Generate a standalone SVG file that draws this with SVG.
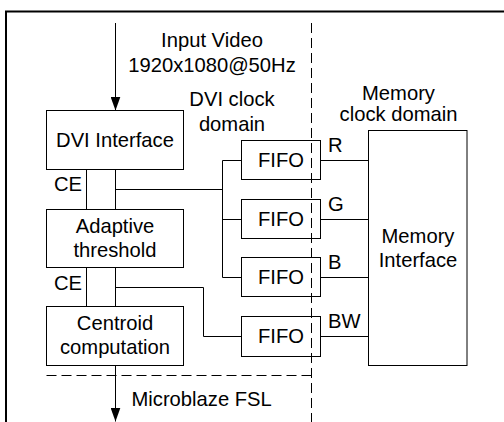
<svg xmlns="http://www.w3.org/2000/svg" width="504" height="422" viewBox="0 0 504 422">
<defs>
<style>
.box{fill:none;stroke:#000;stroke-width:1}
.ln{fill:none;stroke:#000;stroke-width:1}
.dash{fill:none;stroke:#000;stroke-width:1;stroke-dasharray:10,5}
text{font-family:"Liberation Sans",Arial,sans-serif;font-size:20.2px;fill:#000}
.c{text-anchor:middle}
</style>
<marker id="ah" markerUnits="userSpaceOnUse" markerWidth="14" markerHeight="10" refX="14" refY="5" orient="auto">
<path d="M0,0 L14,5 L0,10 z" fill="#000"/>
</marker>
</defs>
<rect width="504" height="422" fill="#fff"/>
<path d="M6,422 V11.5 H504" fill="none" stroke="#000" stroke-width="2"/>
<g id="domains">
<path class="dash" d="M311.5,23 V422"/>
<path class="dash" d="M46.5,375.5 H311"/>
</g>
<g id="connectors">
<path class="ln" d="M115.5,23 V110.5" marker-end="url(#ah)"/>
<path class="ln" d="M115.5,365.5 V421.5" marker-end="url(#ah)"/>
<path class="ln" d="M86.5,169.5 V209.5 M115.5,169.5 V209.5"/>
<path class="ln" d="M86.5,267.5 V306.5 M115.5,267.5 V306.5"/>
<path class="ln" d="M115.5,189.5 H222.5 M222.5,160.5 V277.5 M222.5,160.5 H241.5 M222.5,219.5 H241.5 M222.5,277.5 H241.5"/>
<path class="ln" d="M115.5,287.5 H203.5 V336.5 H241.5"/>
<path class="ln" d="M320.5,160.5 H368.5 M320.5,219.5 H368.5 M320.5,277.5 H368.5 M320.5,336.5 H368.5"/>
</g>
<g id="input-label">
<text class="c" x="212" y="46.5">Input Video</text>
<text class="c" x="212" y="71.5">1920x1080@50Hz</text>
</g>
<g id="dvi-domain-label">
<text class="c" x="232" y="106">DVI clock</text>
<text class="c" x="232" y="131">domain</text>
</g>
<g id="mem-domain-label">
<text class="c" x="398.5" y="100">Memory</text>
<text class="c" x="398.5" y="120.5">clock domain</text>
</g>
<g id="dvi-interface">
<rect class="box" x="46.5" y="110.5" width="137" height="59"/>
<text class="c" x="115" y="147">DVI Interface</text>
</g>
<g id="adaptive-threshold">
<rect class="box" x="46.5" y="209.5" width="137" height="58"/>
<text class="c" x="115" y="232.5">Adaptive</text>
<text class="c" x="115" y="256.5">threshold</text>
</g>
<g id="centroid">
<rect class="box" x="46.5" y="306.5" width="137" height="59"/>
<text class="c" x="115" y="330">Centroid</text>
<text class="c" x="115" y="354">computation</text>
</g>
<g id="ce-labels">
<text x="54" y="191">CE</text>
<text x="54" y="289.5">CE</text>
</g>
<g id="fifo-r">
<rect class="box" x="241.5" y="140.5" width="79" height="39"/>
<text class="c" x="281" y="166.5">FIFO</text>
</g>
<g id="fifo-g">
<rect class="box" x="241.5" y="199.5" width="79" height="39"/>
<text class="c" x="281" y="225.5">FIFO</text>
</g>
<g id="fifo-b">
<rect class="box" x="241.5" y="257.5" width="79" height="39"/>
<text class="c" x="281" y="283.5">FIFO</text>
</g>
<g id="fifo-bw">
<rect class="box" x="241.5" y="316.5" width="79" height="40"/>
<text class="c" x="281" y="343">FIFO</text>
</g>
<g id="channel-labels">
<text x="328" y="152">R</text>
<text x="328" y="210.5">G</text>
<text x="328" y="268.5">B</text>
<text x="328" y="328">BW</text>
</g>
<g id="memory-interface">
<rect class="box" x="368.5" y="130.5" width="98.5" height="235"/>
<text class="c" x="418" y="242.5">Memory</text>
<text class="c" x="418" y="267">Interface</text>
</g>
<g id="output-label">
<text x="131.5" y="406">Microblaze FSL</text>
</g>
</svg>
